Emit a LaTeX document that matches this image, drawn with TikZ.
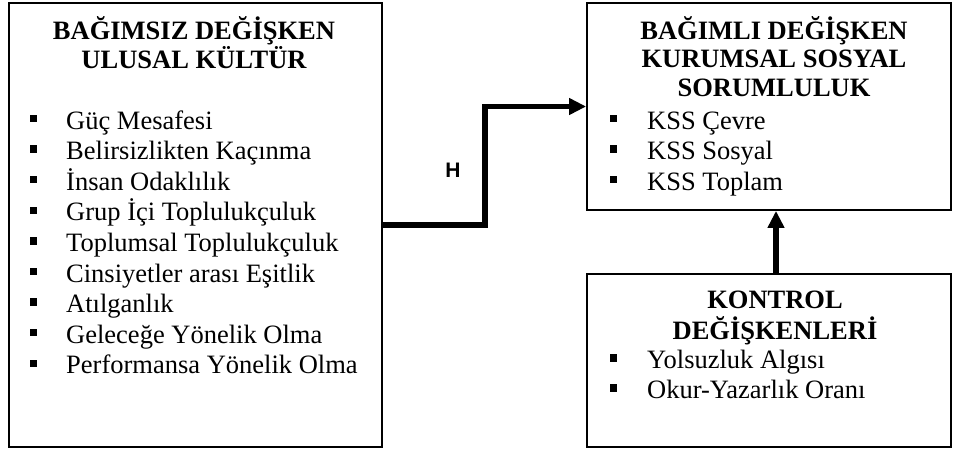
\documentclass[tikz,border=0pt]{standalone}
\usepackage{fontspec}
\setmainfont{Liberation Serif}
\newfontfamily\hfont{Liberation Sans}
\usetikzlibrary{arrows.meta}
\tikzset{
  box/.style={draw=black, line width=1.8pt, rectangle, inner sep=0pt},
  ttl/.style={anchor=base, inner sep=0pt, font=\fontsize{26.5}{30}\selectfont\bfseries},
  itm/.style={anchor=base west, inner sep=0pt, font=\fontsize{26.5}{30}\selectfont},
  bul/.style={rectangle, fill=black, inner sep=0pt, minimum size=7.5pt},
  conn/.style={line width=5.5pt, line join=miter, -{Triangle[length=17pt,width=16pt]}},
  hlab/.style={inner sep=0pt, font=\hfont\bfseries\fontsize{21}{21}\selectfont}
}
\begin{document}
\begin{tikzpicture}[x=1pt,y=-1pt]
\useasboundingbox (0,0) rectangle (953,451);
% boxes
\node[box, minimum width=373pt, minimum height=444pt] (L) at (195.5,225) {};
\node[box, minimum width=364pt, minimum height=207pt] (T) at (769,106.5) {};
\node[box, minimum width=364pt, minimum height=173pt] (B) at (769,360.5) {};
% left box
\node[ttl] (l1) at (194,39.5) {BAĞIMSIZ DEĞİŞKEN};
\node[ttl] (l2) at (194,68.5) {ULUSAL KÜLTÜR};
\foreach \t [count=\i from 0] in {Güç Mesafesi, Belirsizlikten Kaçınma, İnsan Odaklılık, Grup İçi Toplulukçuluk, Toplumsal Toplulukçuluk, Cinsiyetler arası Eşitlik, Atılganlık, Geleceğe Yönelik Olma, Performansa Yönelik Olma}{
  \node[itm] (li\i) at (66,129+30.6*\i) {\t};
  \node[bul] (lb\i) at (33.5,118.5+30.6*\i) {};
}
% top right box
\node[ttl] (t1) at (774,39.5) {BAĞIMLI DEĞİŞKEN};
\node[ttl] (t2) at (774,67.5) {KURUMSAL SOSYAL};
\node[ttl] (t3) at (774,96) {SORUMLULUK};
\foreach \t [count=\i from 0] in {KSS Çevre, KSS Sosyal, KSS Toplam}{
  \node[itm] (ti\i) at (647,129+30.6*\i) {\t};
  \node[bul] (tb\i) at (613.5,118.5+30.6*\i) {};
}
% bottom right box
\node[ttl] (k1) at (775,308) {KONTROL};
\node[ttl] (k2) at (775,339.5) {DEĞİŞKENLERİ};
\foreach \t [count=\i from 0] in {Yolsuzluk Algısı, Okur-Yazarlık Oranı}{
  \node[itm] (ki\i) at (647,368.5+30*\i) {\t};
  \node[bul] (kb\i) at (613.5,358+30*\i) {};
}
% connectors
\coordinate (bend) at (485,165);
\draw[conn] (L.east) -| (bend) |- (T.west);
\node[hlab] (h) at (453,170) {H};
\draw[conn] ([xshift=7pt]B.north) -- ([xshift=7pt]T.south);
\end{tikzpicture}
\end{document}
